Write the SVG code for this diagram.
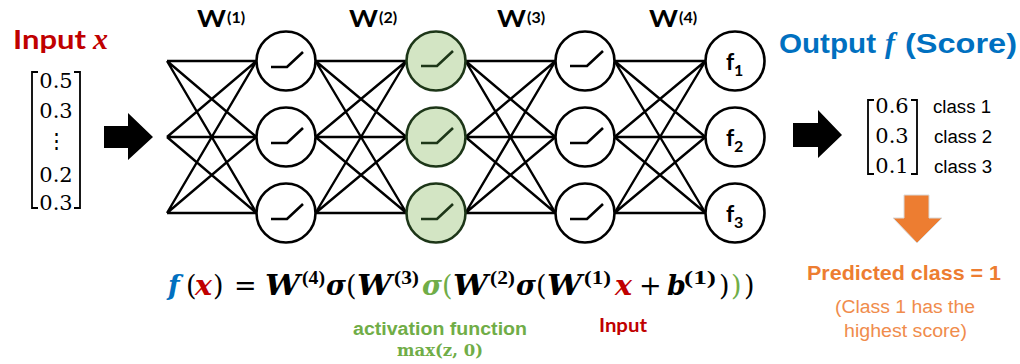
<svg xmlns="http://www.w3.org/2000/svg" width="1020" height="364" viewBox="0 0 1020 364">
<style>
.edge{stroke:#000;stroke-width:2.4;fill:none}
.node{fill:#fff;stroke:#000;stroke-width:2.6}
.gnode{fill:#d3e5c4;stroke:#1d3618;stroke-width:2.6}
.relu{fill:none;stroke:#000;stroke-width:2.6}
.grelu{fill:none;stroke:#1d3618;stroke-width:2.6}
.cal{font-family:Lato,"Open Sans","Liberation Sans",sans-serif;font-weight:bold}
.ari{font-family:"Liberation Sans",Arial,sans-serif}
.vec{font-family:"DejaVu Serif","Liberation Serif",serif;font-size:21px}
.math{font-family:"DejaVu Serif","Liberation Serif",serif;font-weight:bold}
.mi{font-family:"DejaVu Serif","Liberation Serif",serif;font-weight:bold;font-style:italic;font-size:27px}
.mp{font-family:"DejaVu Serif","Liberation Serif",serif;font-size:27px}
.sup{font-family:"Liberation Serif",serif;font-weight:bold;font-size:19px}
.brk{fill:none;stroke:#000;stroke-width:1.8}
.arrow{fill:#000}
</style>

<g id="title-input">
  <text class="cal" x="13" y="49" font-size="27" fill="#c00000" textLength="73" lengthAdjust="spacingAndGlyphs">Input</text>
  <text x="93" y="49" font-family="Liberation Serif,serif" font-style="italic" font-weight="bold" font-size="30" fill="#c00000">x</text>
</g>

<g id="input-vector">
  <path class="brk" d="M38 72 H32 V208 H38"/>
  <path class="brk" d="M74 72 H80 V208 H74"/>
  <text class="vec" x="56" y="88" text-anchor="middle">0.5</text>
  <text class="vec" x="56" y="118" text-anchor="middle">0.3</text>
  <text class="vec" x="56" y="148" text-anchor="middle">⋮</text>
  <text class="vec" x="56" y="182" text-anchor="middle">0.2</text>
  <text class="vec" x="56" y="210" text-anchor="middle">0.3</text>
</g>

<g id="arrow-in">
  <polygon class="arrow" points="104,126 128,126 128,113 153,137 128,160 128,148 104,148"/>
</g>

<g id="connectors">
  <path class="edge" d="M167 61 L256.5 61 M167 61 L256.5 137 M167 61 L256.5 213 M167 137 L256.5 61 M167 137 L256.5 137 M167 137 L256.5 213 M167 213 L256.5 61 M167 213 L256.5 137 M167 213 L256.5 213"/>
  <path class="edge" d="M315.5 61 L406.5 61 M315.5 61 L406.5 137 M315.5 61 L406.5 213 M315.5 137 L406.5 61 M315.5 137 L406.5 137 M315.5 137 L406.5 213 M315.5 213 L406.5 61 M315.5 213 L406.5 137 M315.5 213 L406.5 213"/>
  <path class="edge" d="M465.5 61 L555.5 61 M465.5 61 L555.5 137 M465.5 61 L555.5 213 M465.5 137 L555.5 61 M465.5 137 L555.5 137 M465.5 137 L555.5 213 M465.5 213 L555.5 61 M465.5 213 L555.5 137 M465.5 213 L555.5 213"/>
  <path class="edge" d="M614.5 61 L705.5 61 M614.5 61 L705.5 137 M614.5 61 L705.5 213 M614.5 137 L705.5 61 M614.5 137 L705.5 137 M614.5 137 L705.5 213 M614.5 213 L705.5 61 M614.5 213 L705.5 137 M614.5 213 L705.5 213"/>
</g>

<g id="weight-labels" class="cal">
  <text x="197" y="27" font-size="22" textLength="29" lengthAdjust="spacingAndGlyphs">W</text>
  <text x="227" y="23" font-size="16">(1)</text>
  <text x="349" y="27" font-size="22" textLength="29" lengthAdjust="spacingAndGlyphs">W</text>
  <text x="379" y="23" font-size="16">(2)</text>
  <text x="497" y="27" font-size="22" textLength="29" lengthAdjust="spacingAndGlyphs">W</text>
  <text x="527" y="23" font-size="16">(3)</text>
  <text x="649" y="27" font-size="22" textLength="29" lengthAdjust="spacingAndGlyphs">W</text>
  <text x="679" y="23" font-size="16">(4)</text>
</g>

<g id="h1-1"><circle class="node" cx="286" cy="61" r="29.5"/><path class="relu" d="M271 67 H287 L303 52"/></g>
<g id="h1-2"><circle class="node" cx="286" cy="137" r="29.5"/><path class="relu" d="M271 143 H287 L303 128"/></g>
<g id="h1-3"><circle class="node" cx="286" cy="213" r="29.5"/><path class="relu" d="M271 219 H287 L303 204"/></g>

<g id="h2-1"><circle class="gnode" cx="436" cy="61" r="29.5"/><path class="grelu" d="M421 66 H437 L453 51"/></g>
<g id="h2-2"><circle class="gnode" cx="436" cy="137" r="29.5"/><path class="grelu" d="M421 143 H437 L453 128"/></g>
<g id="h2-3"><circle class="gnode" cx="436" cy="213" r="29.5"/><path class="grelu" d="M421 219 H437 L453 204"/></g>

<g id="h3-1"><circle class="node" cx="585" cy="61" r="29.5"/><path class="relu" d="M570 66 H587 L603 51"/></g>
<g id="h3-2"><circle class="node" cx="585" cy="137" r="29.5"/><path class="relu" d="M570 143 H587 L603 128"/></g>
<g id="h3-3"><circle class="node" cx="585" cy="213" r="29.5"/><path class="relu" d="M570 219 H587 L603 204"/></g>

<g id="out-1"><circle class="node" cx="735" cy="61" r="29.5"/><text class="cal" x="726" y="70" font-size="23">f</text><text class="cal" x="734" y="76" font-size="16">1</text></g>
<g id="out-2"><circle class="node" cx="735" cy="137" r="29.5"/><text class="cal" x="726" y="146" font-size="23">f</text><text class="cal" x="734" y="152" font-size="16">2</text></g>
<g id="out-3"><circle class="node" cx="735" cy="213" r="29.5"/><text class="cal" x="726" y="222" font-size="23">f</text><text class="cal" x="734" y="228" font-size="16">3</text></g>

<g id="title-output">
  <text class="ari" x="779" y="53" font-size="28" font-weight="bold" fill="#0070c0" textLength="97" lengthAdjust="spacingAndGlyphs">Output</text>
  <text x="885" y="53" font-family="Liberation Serif,serif" font-style="italic" font-weight="bold" font-size="30" fill="#0070c0">f</text>
  <text class="ari" x="905" y="53" font-size="28" font-weight="bold" fill="#0070c0" textLength="112" lengthAdjust="spacingAndGlyphs">(Score)</text>
</g>

<g id="arrow-out">
  <polygon class="arrow" points="793,123 818,123 818,110 842,135 818,158 818,147 793,147"/>
</g>

<g id="output-vector">
  <path class="brk" d="M874 100 H868 V174 H874"/>
  <path class="brk" d="M911 100 H917 V174 H911"/>
  <text class="vec" x="892" y="113" text-anchor="middle">0.6</text>
  <text class="vec" x="892" y="143" text-anchor="middle">0.3</text>
  <text class="vec" x="892" y="173" text-anchor="middle">0.1</text>
  <text class="ari" x="933" y="113" font-size="18" textLength="58" lengthAdjust="spacingAndGlyphs">class 1</text>
  <text class="ari" x="934" y="143" font-size="18" textLength="58" lengthAdjust="spacingAndGlyphs">class 2</text>
  <text class="ari" x="934" y="173" font-size="18" textLength="58" lengthAdjust="spacingAndGlyphs">class 3</text>
</g>

<g id="arrow-predict">
  <polygon points="904,195 929,195 929,218 942,218 917,243 893,218 904,218" fill="#ed7d31" stroke="#d9d9d9" stroke-width="1"/>
</g>

<g id="prediction">
  <text class="ari" x="807" y="280" font-size="21" font-weight="bold" fill="#ed7d31" textLength="194" lengthAdjust="spacingAndGlyphs">Predicted class = 1</text>
  <text class="ari" x="835" y="313" font-size="18" fill="#f08c4c" textLength="140" lengthAdjust="spacingAndGlyphs">(Class 1 has the</text>
  <text class="ari" x="844" y="337" font-size="18" fill="#f08c4c" textLength="123" lengthAdjust="spacingAndGlyphs">highest score)</text>
</g>

<g id="formula">
  <text class="mi" x="168" y="295" fill="#0070c0">f</text>
  <text class="mp" x="186" y="295">(</text>
  <text class="mi" x="195" y="295" fill="#c00000" textLength="17" lengthAdjust="spacingAndGlyphs">x</text>
  <text class="mp" x="213" y="295">)</text>
  <text class="mp" x="234" y="295">=</text>
  <text class="mi" x="265" y="295" textLength="35" lengthAdjust="spacingAndGlyphs">W</text>
  <text class="sup" x="302" y="284" textLength="23" lengthAdjust="spacingAndGlyphs">(4)</text>
  <text class="mi" x="326" y="295">σ</text>
  <text class="mp" x="346" y="295">(</text>
  <text class="mi" x="357" y="295" textLength="35" lengthAdjust="spacingAndGlyphs">W</text>
  <text class="sup" x="394" y="284" textLength="25" lengthAdjust="spacingAndGlyphs">(3)</text>
  <text class="mi" x="422" y="295" fill="#70ad47">σ</text>
  <text class="mp" x="442" y="295" fill="#70ad47">(</text>
  <text class="mi" x="453" y="295" textLength="35" lengthAdjust="spacingAndGlyphs">W</text>
  <text class="sup" x="490" y="284" textLength="25" lengthAdjust="spacingAndGlyphs">(2)</text>
  <text class="mi" x="516" y="295">σ</text>
  <text class="mp" x="536" y="295">(</text>
  <text class="mi" x="547" y="295" textLength="35" lengthAdjust="spacingAndGlyphs">W</text>
  <text class="sup" x="584" y="284" textLength="27" lengthAdjust="spacingAndGlyphs">(1)</text>
  <text class="mi" x="615" y="295" fill="#c00000" textLength="17" lengthAdjust="spacingAndGlyphs">x</text>
  <text class="mp" x="639" y="295">+</text>
  <text class="mi" x="667" y="295">b</text>
  <text class="sup" x="684" y="284" textLength="32" lengthAdjust="spacingAndGlyphs">(1)</text>
  <text class="mp" x="719" y="295">)</text>
  <text class="mp" x="731" y="295" fill="#70ad47">)</text>
  <text class="mp" x="744" y="295">)</text>
</g>

<g id="activation-label">
  <text class="ari" x="353" y="335" font-size="18" font-weight="bold" fill="#70ad47" textLength="174" lengthAdjust="spacingAndGlyphs">activation function</text>
  <text class="math" x="440" y="356" font-size="16.5" fill="#70ad47" text-anchor="middle">max(z, 0)</text>
</g>

<g id="input-label">
  <text class="cal" x="599" y="332" font-size="18" fill="#c00000" textLength="48" lengthAdjust="spacingAndGlyphs">Input</text>
</g>
</svg>
